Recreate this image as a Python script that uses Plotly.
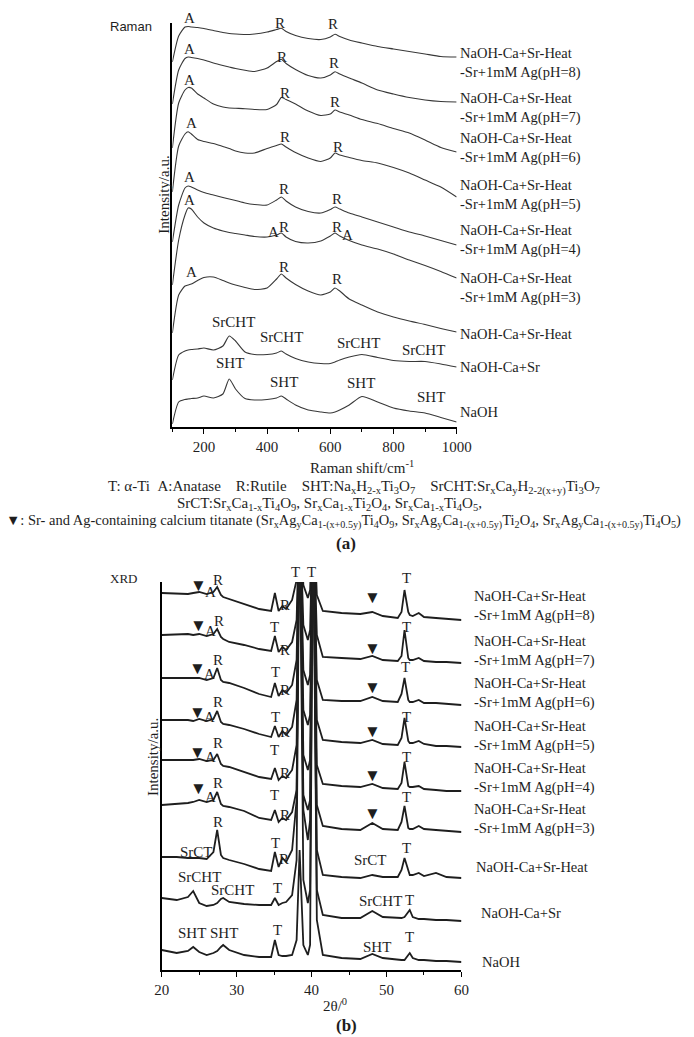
import plotly.graph_objects as go

W, H = 694, 1037
SERIF = "Liberation Serif, Times New Roman, serif"
INK = "#1e1e1e"

# ---------------- Raman spectra (stacked, a.u.) ----------------
raman_shift = [100, 120, 140, 150, 160, 180, 200, 230, 260, 280, 300, 330, 360, 400,
               430, 445, 460, 490, 530, 570, 600, 615, 630, 660, 700, 750, 800, 850,
               900, 950, 1000]

raman_ph8 = [365, 391, 400, 400.5, 400, 399.5, 398.5, 396.5, 394.5, 393.5, 393, 392.5, 393, 395,
             397.5, 398.7, 395.5, 391.5, 388.5, 387.5, 390, 392.7, 390.5, 387, 384, 380.5, 378,
             375.5, 373, 370.5, 370]
raman_ph7 = [323, 357, 368.5, 370, 369.5, 368.5, 367, 364, 361.5, 360, 358.5, 356.7, 355.5, 359,
             365.5, 367.7, 363.5, 357.5, 351.5, 349, 352, 355.3, 353, 349, 344, 337, 333, 329.5,
             327, 325.5, 325]
raman_ph6 = [279, 324, 337, 339.5, 339, 333, 329, 323, 320, 319, 318.7, 318.3, 317.5, 317.5,
             322.5, 329.5, 327.5, 323, 316, 311.5, 313, 317, 315, 312, 307.5, 303.5, 298.5, 294,
             287, 279.5, 275]
raman_ph5 = [235, 281, 293, 295.3, 293, 287.5, 285.5, 283.5, 280.5, 278.5, 276, 274, 274, 278.5,
             281.5, 283, 280, 274.5, 269, 265.5, 269, 274, 272, 269.5, 266.5, 264, 259.5, 254,
             247, 240, 230]
raman_ph4 = [185, 222, 239, 241, 240, 237, 234.5, 232, 229.5, 228, 226.5, 224, 222.5, 222,
             227, 230, 226, 220, 215.5, 214, 217.5, 220, 218, 214, 210, 205, 200, 195, 191,
             186.5, 182]
raman_ph3 = [142, 187, 212, 219, 218, 210, 204, 199, 196, 194.5, 193.5, 192, 190.5, 190,
             192, 194, 190, 185.5, 184, 186, 191, 194, 191, 186.5, 182, 178, 173, 167, 161.5,
             155.5, 149]
raman_heat = [94, 132, 141, 142, 143, 146.5, 149.5, 150, 146.5, 144, 142, 139.5, 137.5, 139,
              148, 153, 149, 142.5, 136, 132, 135, 139, 136, 128, 122, 115, 110, 106, 102.5,
              98.5, 95]
raman_ca_sr = [47, 72, 76, 77, 77.5, 78, 79, 77, 81, 91, 86, 75, 72.5, 72.5, 74, 76, 73, 68.5,
               65, 63.5, 63.5, 65, 67, 70, 72.5, 69.5, 66.5, 65.5, 65.5, 63, 60]
raman_naoh = [3, 25, 27.5, 28, 28.5, 29, 31, 29, 33, 48, 38, 28.5, 27, 27.5, 29, 31, 28, 22,
              17, 15, 14, 15, 17, 22, 30.5, 25, 19, 16, 14, 9.5, 5]

# ---------------- XRD patterns (stacked, a.u.) ----------------
two_theta = [20, 22, 23.5, 24.2, 25, 26, 26.9, 27.4, 27.9, 28.2, 29, 31, 33, 34.6, 35.1, 35.6,
             36.1, 36.6, 37.4, 38.0, 38.4, 38.9, 39.5, 39.8, 40.2, 40.7, 41.5, 44, 46.5, 48.1,
             49.5, 51.5, 52.0, 52.4, 52.9, 53.1, 53.5, 54.3, 55.0, 56.6, 58, 60]

xrd_ph8 = [377, 376, 376, 377, 378, 376, 378, 383, 375, 373, 371, 366, 361, 359, 377, 359, 364,
           361, 370, 390, 470, 385, 372, 380, 470, 375, 359, 357, 356, 358, 354, 352, 358, 380,
           358, 355, 354, 357, 353, 352, 351, 350]
xrd_ph7 = [335, 336, 336, 335, 336, 334, 336, 341, 333, 331, 328, 325, 321, 319, 334, 318, 323,
           320, 328, 350, 470, 345, 330, 340, 470, 335, 313, 312, 311, 314, 310, 309, 314, 340,
           312, 310, 310, 312, 309, 308, 308, 307]
xrd_ph6 = [292, 292, 292, 292, 292, 290, 292, 302, 290, 288, 287, 282, 276, 273, 287, 274, 280,
           277, 285, 310, 470, 300, 285, 295, 470, 290, 270, 269, 269, 273, 269, 268, 276, 292,
           270, 268, 268, 270, 267, 267, 266, 265]
xrd_ph5 = [250, 250, 250, 249, 251, 249, 251, 259, 248, 246, 245, 241, 236, 233, 244, 233, 239,
           235, 243, 270, 470, 260, 245, 255, 470, 250, 230, 228, 227, 230, 226, 225, 232, 252,
           229, 227, 227, 229, 226, 224, 224, 223]
xrd_ph4 = [210, 210, 210, 210, 211, 209, 210, 216, 206, 204, 203, 198, 193, 191, 202, 190, 194,
           192, 200, 225, 470, 215, 200, 210, 470, 205, 186, 184, 183, 186, 182, 181, 187, 208,
           184, 183, 183, 184, 181, 180, 179, 179]
xrd_ph3 = [165, 166, 167, 168, 170, 168, 170, 178, 166, 164, 163, 159, 152, 150, 160, 148, 152,
           150, 158, 180, 470, 175, 160, 170, 470, 165, 144, 141, 140, 147, 141, 140, 148, 164,
           142, 141, 141, 144, 141, 140, 139, 138]
xrd_heat = [113, 113, 112, 112, 112, 111, 118, 140, 115, 112, 110, 106, 101, 99, 118, 103, 112,
            108, 120, 170, 470, 160, 130, 150, 470, 120, 95, 93, 92, 95, 93, 93, 100, 112, 98,
            95, 95, 97, 94, 97, 93, 92]
xrd_ca_sr = [72, 70, 73, 79, 67, 64, 65, 67, 71, 72, 68, 66, 65, 65, 72, 65, 67, 68, 75, 110,
             470, 90, 67, 80, 470, 80, 55, 52, 52, 59, 53, 52, 52, 53, 58, 60, 53, 51, 51, 50,
             50, 49]
xrd_naoh = [20, 17, 19, 23, 18, 15, 17, 19, 23, 25, 20, 15, 13, 13, 30, 15, 14, 14, 15, 30, 120,
            25, 15, 25, 470, 50, 15, 12, 11, 16, 12, 10, 10, 10, 15, 17, 12, 10, 10, 9, 9, 8]

# ---------------- sample names ----------------
ag_names = ["NaOH-Ca+Sr-Heat<br>-Sr+1mM Ag(pH=%d)" % p for p in (8, 7, 6, 5, 4, 3)]
sample_names = ag_names + ["NaOH-Ca+Sr-Heat", "NaOH-Ca+Sr", "NaOH"]

raman_series = [raman_ph8, raman_ph7, raman_ph6, raman_ph5, raman_ph4, raman_ph3,
                raman_heat, raman_ca_sr, raman_naoh]
xrd_series = [xrd_ph8, xrd_ph7, xrd_ph6, xrd_ph5, xrd_ph4, xrd_ph3,
              xrd_heat, xrd_ca_sr, xrd_naoh]

# where each sample name sits beside its trace (axis units)
raman_name_y = [364.5, 319, 278.5, 232.5, 187, 139.5, 93, 60, 15]
raman_name_x = [1003] * 9
xrd_name_y = [364, 319, 277, 234, 192, 151, 103, 57, 8]
xrd_name_x = [61.4] * 6 + [61.7, 62.3, 62.45]

# phase markers: (text, position, height)
raman_marks = [
    ("A", 155, 409), ("R", 442, 404), ("R", 608, 403),
    ("A", 155, 378), ("R", 446, 370), ("R", 611, 364),
    ("A", 155, 347), ("R", 458, 334), ("R", 614, 325),
    ("A", 161, 304), ("R", 458, 290), ("R", 623, 280),
    ("A", 155, 250), ("R", 452, 238), ("R", 620, 228),
    ("A", 155, 227), ("A", 419, 195), ("R", 452, 200), ("R", 620, 200), ("A", 653, 192),
    ("A", 161, 155), ("R", 452, 160), ("R", 620, 148),
    ("SrCHT", 293, 105), ("SrCHT", 446, 90), ("SrCHT", 688, 84), ("SrCHT", 896, 77),
    ("SHT", 284, 64), ("SHT", 452, 45), ("SHT", 697, 44), ("SHT", 920, 30),
]
xrd_marks = [
    ("▼", 24.9, 385), ("A", 26.5, 378), ("R", 27.5, 390), ("R", 36.4, 365),
    ("T", 37.9, 398), ("T", 40.0, 398), ("▼", 48.1, 373), ("T", 52.6, 392),
    ("▼", 24.9, 345), ("A", 26.5, 339), ("R", 27.7, 349), ("T", 35.1, 343),
    ("R", 36.4, 320), ("▼", 48.1, 322), ("T", 52.6, 343),
    ("▼", 24.8, 302), ("A", 26.4, 296), ("R", 27.5, 310), ("T", 35.2, 298),
    ("R", 36.4, 280), ("▼", 48.1, 283), ("T", 52.5, 303),
    ("▼", 24.8, 258), ("A", 26.4, 253), ("R", 27.5, 268), ("T", 35.2, 253),
    ("R", 36.4, 238), ("▼", 48.1, 238), ("T", 52.6, 253),
    ("▼", 24.8, 218), ("A", 26.5, 213), ("R", 27.5, 227), ("T", 35.1, 220),
    ("R", 36.4, 197), ("▼", 48.1, 195), ("T", 52.6, 213),
    ("▼", 24.9, 182), ("A", 26.5, 173), ("R", 27.5, 187), ("T", 35.1, 175),
    ("R", 36.4, 155), ("▼", 48.1, 157), ("T", 52.6, 173),
    ("SrCT", 24.6, 118), ("R", 27.5, 148), ("T", 35.2, 127), ("R", 36.3, 111),
    ("SrCT", 47.9, 110), ("T", 52.7, 122),
    ("SrCHT", 25.1, 93), ("SrCHT", 29.4, 80), ("T", 35.4, 82), ("SrCHT", 49.2, 69),
    ("T", 53.0, 70),
    ("SHT", 24.0, 37), ("SHT", 28.3, 37), ("T", 35.4, 40), ("SHT", 48.7, 23), ("T", 53.0, 33),
]

# panel geometry (paper fractions)
RAMAN_XDOM, RAMAN_XRNG = [170 / W, 464 / W], [100, 1000]
RAMAN_YDOM, RAMAN_YRNG = [1 - 427 / H, 1 - 23 / H], [0, 404]
XRD_XDOM, XRD_XRNG = [159 / W, 469 / W], [20, 60]
XRD_YDOM, XRD_YRNG = [1 - 970 / H, 1 - 582 / H], [0, 388]


def frac(v, dom, rng):
    return dom[0] + (v - rng[0]) / (rng[1] - rng[0]) * (dom[1] - dom[0])


fig = go.Figure()

for ys in raman_series:
    fig.add_trace(go.Scatter(
        x=raman_shift, y=ys, mode="lines", xaxis="x", yaxis="y",
        line=dict(color="#383838", width=1.1, shape="spline", smoothing=0.6),
        hoverinfo="skip", showlegend=False))

for ys in xrd_series:
    fig.add_trace(go.Scatter(
        x=two_theta, y=ys, mode="lines", xaxis="x2", yaxis="y2",
        line=dict(color=INK, width=1.8),
        hoverinfo="skip", showlegend=False))

ann = []
tfont = dict(family=SERIF, size=15, color=INK)
nfont = dict(family=SERIF, size=14.5, color=INK)


def place(text, px, py, font, xanchor="center", align="center", angle=0):
    ann.append(dict(x=px, y=py, xref="paper", yref="paper", text=text, showarrow=False,
                    xanchor=xanchor, yanchor="middle", align=align, textangle=angle,
                    font=font))


def raman_text(text, v, i, **kw):
    place(text, frac(v, RAMAN_XDOM, RAMAN_XRNG), frac(i, RAMAN_YDOM, RAMAN_YRNG), **kw)


def xrd_text(text, v, i, **kw):
    place(text, frac(v, XRD_XDOM, XRD_XRNG), frac(i, XRD_YDOM, XRD_YRNG), **kw)


for name, xv, yv in zip(sample_names, raman_name_x, raman_name_y):
    raman_text(name, xv, yv, font=nfont, xanchor="left", align="left")
for name, xv, yv in zip(sample_names, xrd_name_x, xrd_name_y):
    xrd_text(name, xv, yv, font=nfont, xanchor="left", align="left")

for txt, xv, yv in raman_marks:
    raman_text(txt, xv, yv, font=tfont)
for txt, xv, yv in xrd_marks:
    f = dict(tfont, size=17) if txt == "▼" else tfont
    xrd_text(txt, xv, yv, font=f)


def note(px, py, text, size=15, family=SERIF, anchor="center", angle=0):
    place(text, px / W, 1 - py / H, dict(family=family, size=size, color=INK),
          xanchor=anchor, angle=angle)


note(103, 27, "Raman", size=13, family="Liberation Sans, Arial, sans-serif", anchor="left")
note(103, 578, "XRD", size=13, anchor="left")
note(161, 195, "Intensity/a.u.", angle=-90)
note(150, 757, "Intensity/a.u.", angle=-90)
note(366, 467, "Raman shift/cm<sup>-1</sup>")
note(338, 1005, "2θ/<sup>0</sup>")

nb = "\u00a0"
line1 = ("T: α-Ti" + nb * 2 + "A:Anatase" + nb * 4 + "R:Rutile" + nb * 4 +
         "SHT:Na<sub>x</sub>H<sub>2-x</sub>Ti<sub>3</sub>O<sub>7</sub>" + nb * 4 +
         "SrCHT:Sr<sub>x</sub>Ca<sub>y</sub>H<sub>2-2(x+y)</sub>Ti<sub>3</sub>O<sub>7</sub>")
line2 = ("SrCT:Sr<sub>x</sub>Ca<sub>1-x</sub>Ti<sub>4</sub>O<sub>9</sub>, "
         "Sr<sub>x</sub>Ca<sub>1-x</sub>Ti<sub>2</sub>O<sub>4</sub>, "
         "Sr<sub>x</sub>Ca<sub>1-x</sub>Ti<sub>4</sub>O<sub>5</sub>,")
sag = "Sr<sub>x</sub>Ag<sub>y</sub>Ca<sub>1-(x+0.5y)</sub>"
line3 = ("▼: Sr- and Ag-containing calcium titanate (" + sag + "Ti<sub>4</sub>O<sub>9</sub>, " +
         sag + "Ti<sub>2</sub>O<sub>4</sub>, " + sag + "Ti<sub>4</sub>O<sub>5</sub>)")
note(358, 487, line1, size=15)
note(333, 504, line2, size=15)
note(347, 521, line3, size=14.5)
note(350, 543, "<b>(a)</b>", size=17)
note(350, 1025, "<b>(b)</b>", size=17)

axis_common = dict(showline=True, linecolor="black", linewidth=1.5, showgrid=False,
                   zeroline=False, mirror=False)

fig.update_layout(
    width=W, height=H, margin=dict(l=0, r=0, t=0, b=0),
    paper_bgcolor="white", plot_bgcolor="white", showlegend=False,
    annotations=ann,
    xaxis=dict(axis_common, domain=RAMAN_XDOM, range=RAMAN_XRNG, anchor="y",
               ticks="outside", ticklen=5, tickwidth=1.2, tickcolor="black",
               tickvals=[200, 400, 600, 800, 1000],
               minor=dict(tickvals=[100, 300, 500, 700, 900], ticks="outside",
                          ticklen=3, tickwidth=1.2, tickcolor="black"),
               tickfont=dict(family=SERIF, size=15, color=INK)),
    yaxis=dict(axis_common, domain=RAMAN_YDOM, range=RAMAN_YRNG, anchor="x",
               showticklabels=False, ticks=""),
    xaxis2=dict(axis_common, domain=XRD_XDOM, range=XRD_XRNG, anchor="y2",
                ticks="outside", ticklen=5, tickwidth=1.2, tickcolor="black",
                tickvals=[20, 30, 40, 50, 60],
                minor=dict(tickvals=[25, 35, 45, 55], ticks="outside",
                           ticklen=3, tickwidth=1.2, tickcolor="black"),
                tickfont=dict(family=SERIF, size=15, color=INK)),
    yaxis2=dict(axis_common, domain=XRD_YDOM, range=XRD_YRNG, anchor="x2",
                showticklabels=False, ticks=""),
)

fig.write_html("out.html")
